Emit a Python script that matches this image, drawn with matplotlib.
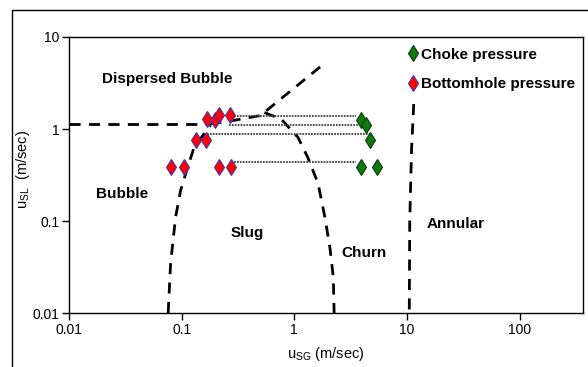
import matplotlib
matplotlib.use("Agg")
import matplotlib.pyplot as plt
from matplotlib.patches import Rectangle

plt.rcParams['font.family'] = ['Liberation Sans', 'DejaVu Sans']
plt.rcParams['mathtext.fontset'] = 'custom'
plt.rcParams['mathtext.rm'] = 'Liberation Sans'

# measured points
choke_x = [3.9, 4.3, 4.7, 3.9, 5.4]
choke_y = [1.25, 1.1, 0.76, 0.39, 0.39]
bottom_x = [0.081, 0.104, 0.135, 0.165, 0.169, 0.198, 0.215, 0.267, 0.215, 0.275]
bottom_y = [0.384, 0.384, 0.76, 0.76, 1.28, 1.25, 1.43, 1.43, 0.384, 0.384]

# dotted links bottomhole -> choke
link_y = [1.38, 1.10, 0.875, 0.434]
link_x0 = [0.29, 0.263, 0.169, 0.29]
link_x1 = [3.5, 4.4, 4.68, 3.5]

# flow regime boundaries
db_x = [0.01, 0.18]
db_y = [1.13, 1.13]
disp_x = [0.18, 0.3, 0.5, 1.74]
disp_y = [1.13, 1.25, 1.4, 4.85]
bubble_x = [0.076, 0.0798, 0.0884, 0.098, 0.112, 0.129, 0.158, 0.18]
bubble_y = [0.01, 0.0345, 0.11, 0.215, 0.369, 0.632, 0.883, 1.09]
churn_x = [0.543, 0.766, 1.08, 1.32, 1.63, 1.87, 2.07, 2.22, 2.26]
churn_y = [1.51, 1.28, 0.81, 0.49, 0.254, 0.11, 0.052, 0.0247, 0.01]
annular_x = [11.5, 11.0, 10.6, 10.5]
annular_y = [1.87, 0.6, 0.1, 0.01]

fig = plt.figure(figsize=(5.88, 3.67), dpi=100)
ax = fig.add_axes([0.1173, 0.1471, 0.8742, 0.7521])

for xs, ys in [(db_x, db_y), (disp_x, disp_y), (bubble_x, bubble_y),
               (churn_x, churn_y), (annular_x, annular_y)]:
    ax.plot(xs, ys, color='black', lw=2, linestyle=(0, (4, 3)))

for y, x0, x1 in zip(link_y, link_x0, link_x1):
    ax.plot([x0, x1], [y, y], color='#444444', lw=1.3, linestyle=(0, (1, 0.6)))

ax.plot(choke_x, choke_y, linestyle='none', marker='d', markersize=8,
        markerfacecolor='#117711', markeredgecolor='#0a3a0a', markeredgewidth=0.8,
        label='Choke pressure')
ax.plot(bottom_x, bottom_y, linestyle='none', marker='d', markersize=8,
        markerfacecolor='#ff0000', markeredgecolor='#4433aa', markeredgewidth=0.8,
        label='Bottomhole pressure')

ax.set_xscale('log')
ax.set_yscale('log')
ax.set_xlim(0.01, 366)
ax.set_ylim(0.01, 10)
ax.set_xticks([0.01, 0.1, 1, 10, 100])
ax.set_xticklabels(['0.01', '0.1', '1', '10', '100'])
ax.set_yticks([0.01, 0.1, 1, 10])
ax.set_yticklabels(['0.01', '0.1', '1', '10'])
ax.minorticks_off()
ax.tick_params(direction='out', length=5, width=1, labelsize=10, pad=2)
for s in ax.spines.values():
    s.set_linewidth(1)

ax.set_xlabel(r'u$_{\mathrm{SG}}$ (m/sec)', fontsize=10.5, labelpad=6)
ax.set_ylabel(r'u$_{\mathrm{SL}}$  (m/sec)', fontsize=10.5)
ax.yaxis.set_label_coords(-0.072, 0.52)

bold = dict(fontsize=11, fontweight='bold', va='center')
ax.text(0.0196, 3.47, 'Dispersed Bubble', **bold)
ax.text(0.0173, 0.198, 'Bubble', **bold)
ax.text(0.274, 0.074, 'Slug', **bold)
ax.text(2.62, 0.045, 'Churn', **bold)
ax.text(15.1, 0.093, 'Annular', **bold)

ax.legend(loc='upper left', bbox_to_anchor=(0.638, 1.0), frameon=False,
          handlelength=0.7, handletextpad=0.2, labelspacing=1.0,
          prop={'weight': 'bold', 'size': 11}, borderaxespad=0.3)

# outer frame
fig.patches.append(Rectangle((12 / 588, -0.1), 1.2, 1.1 - 10 / 367,
                             transform=fig.transFigure, fill=False,
                             edgecolor='black', lw=1))

fig.savefig('out.png', dpi=100)
